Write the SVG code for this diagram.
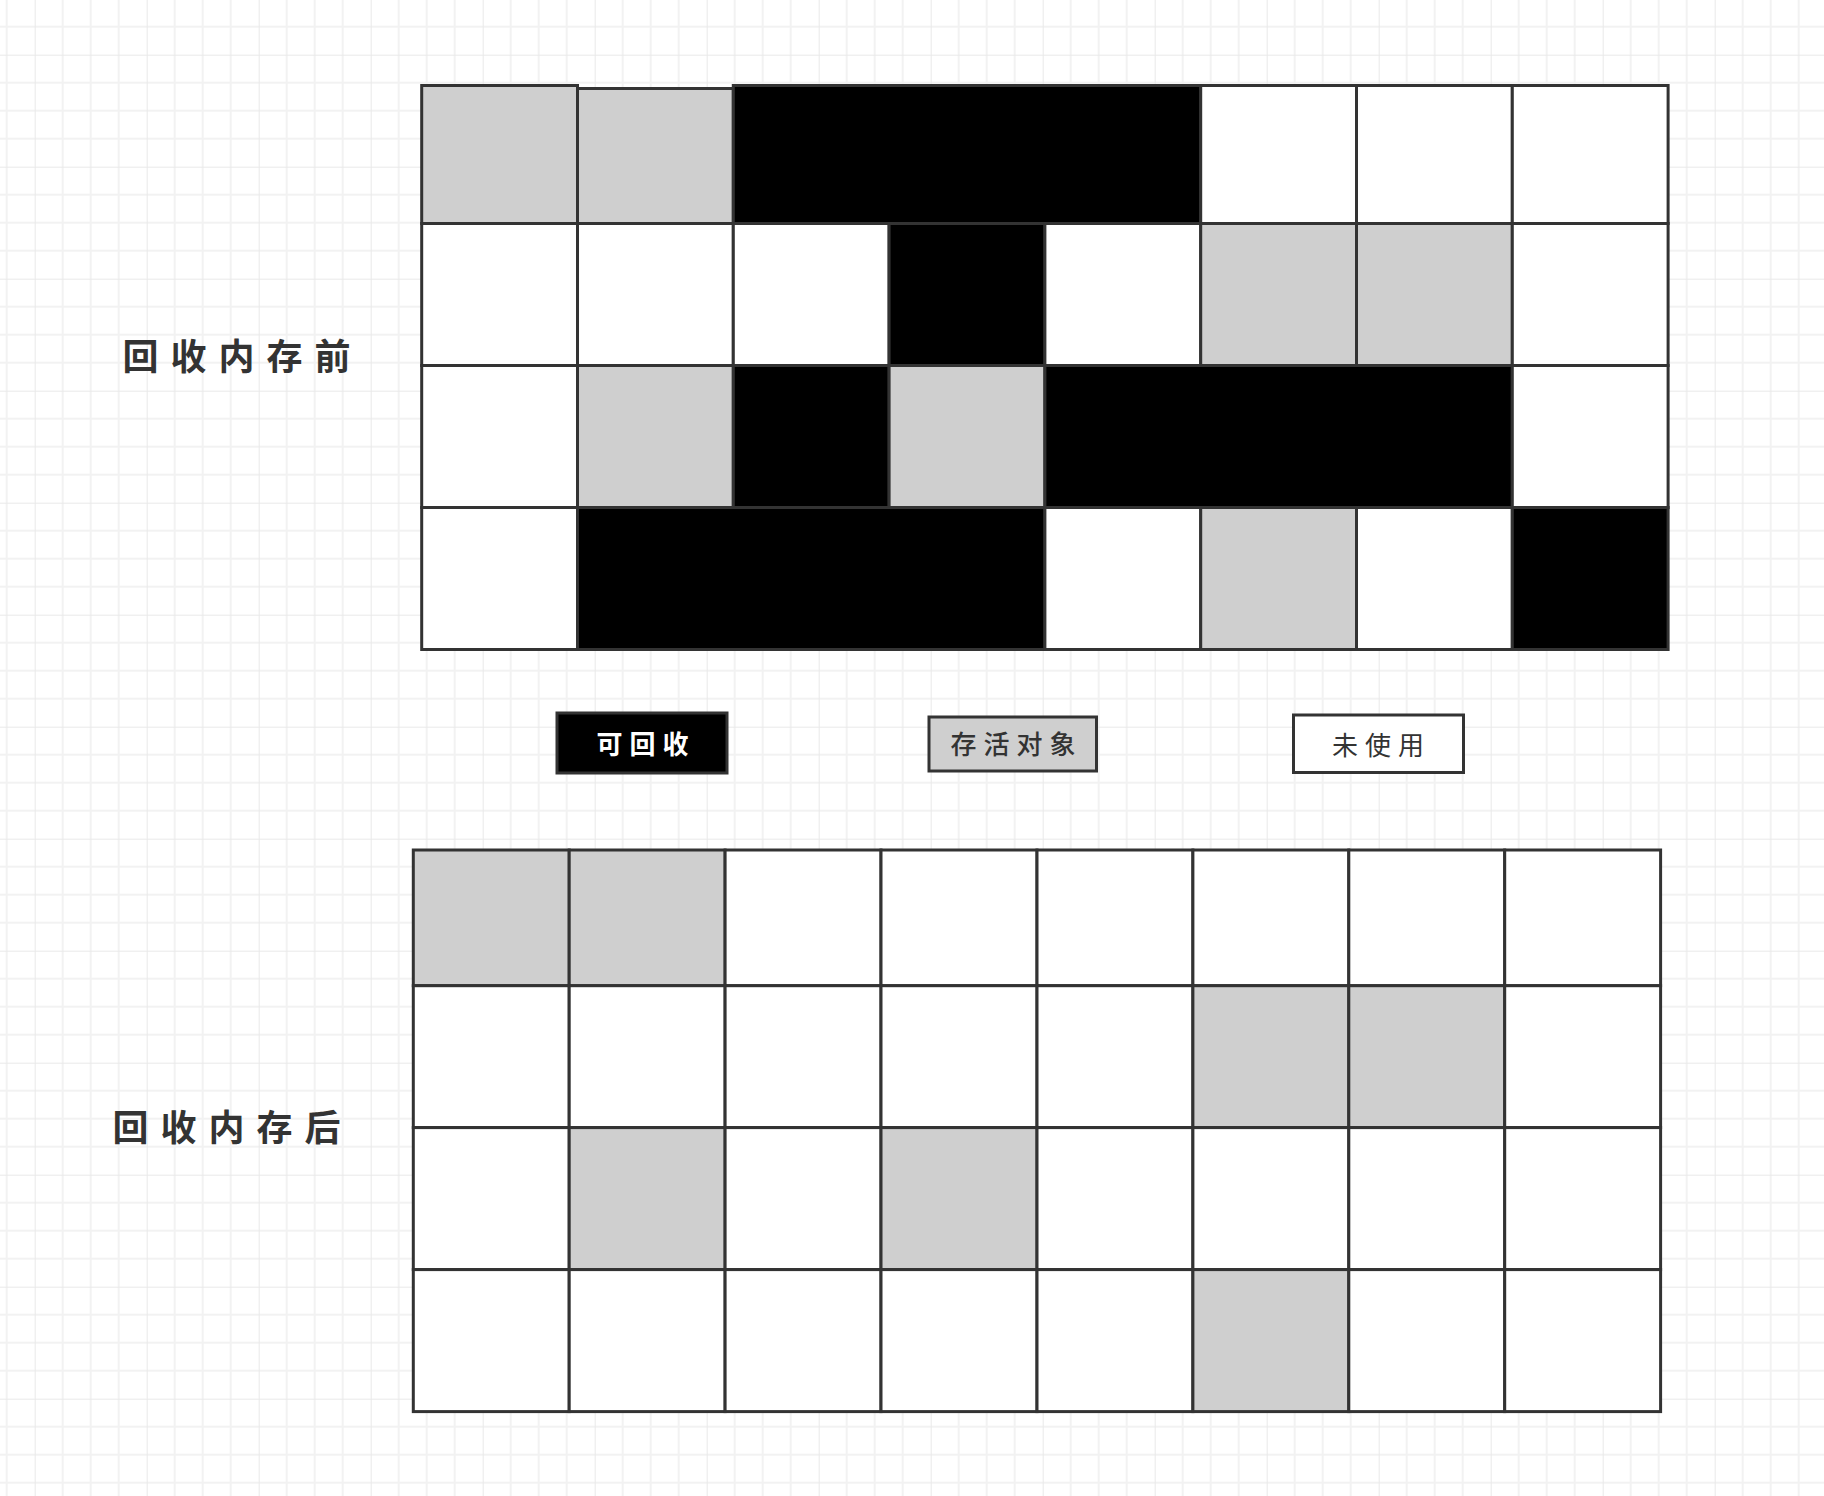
<svg xmlns="http://www.w3.org/2000/svg" width="1824" height="1496" viewBox="0 0 1824 1496">
<defs>
<pattern id="bg" patternUnits="userSpaceOnUse" x="34.7" y="54.7" width="112" height="112">
<path d="M28 0V112M56 0V112M84 0V112M0 28H112M0 56H112M0 84H112" stroke="#f2f2f2" stroke-width="2" fill="none"/>
<path d="M0 0V112M0 0H112" stroke="#e9e9e9" stroke-width="2" fill="none"/>
</pattern>
<style>
.c{stroke:#333;stroke-width:3}
.w{fill:#fff}
.g{fill:#cfcfcf}
.b{fill:#000}
.lbl{font-family:"Noto Sans CJK SC","Noto Sans",sans-serif;font-size:36px;font-weight:bold;fill:#333;letter-spacing:12px;text-anchor:middle}
.leg{font-family:"Noto Sans CJK SC","Noto Sans",sans-serif;font-size:26px;letter-spacing:7px;text-anchor:middle}
</style>
</defs>
<rect width="1824" height="1496" fill="#fff"/>
<rect width="1824" height="1496" fill="url(#bg)"/>

<g id="before-memory">
<rect class="c g" x="421.7" y="85.5" width="155.8" height="138"/>
<rect class="c g" x="577.5" y="88.5" width="155.8" height="135"/>
<rect class="c b" x="733.3" y="85.5" width="467.4" height="138"/>
<rect class="c w" x="1200.7" y="85.5" width="155.8" height="138"/>
<rect class="c w" x="1356.5" y="85.5" width="155.8" height="138"/>
<rect class="c w" x="1512.3" y="85.5" width="155.8" height="138"/>

<rect class="c w" x="421.7" y="223.5" width="155.8" height="142"/>
<rect class="c w" x="577.5" y="223.5" width="155.8" height="142"/>
<rect class="c w" x="733.3" y="223.5" width="155.8" height="142"/>
<rect class="c b" x="889.1" y="223.5" width="155.8" height="142"/>
<rect class="c w" x="1044.9" y="223.5" width="155.8" height="142"/>
<rect class="c g" x="1200.7" y="223.5" width="155.8" height="142"/>
<rect class="c g" x="1356.5" y="223.5" width="155.8" height="142"/>
<rect class="c w" x="1512.3" y="223.5" width="155.8" height="142"/>

<rect class="c w" x="421.7" y="365.5" width="155.8" height="142"/>
<rect class="c g" x="577.5" y="365.5" width="155.8" height="142"/>
<rect class="c b" x="733.3" y="365.5" width="155.8" height="142"/>
<rect class="c g" x="889.1" y="365.5" width="155.8" height="142"/>
<rect class="c b" x="1044.9" y="365.5" width="467.4" height="142"/>
<rect class="c w" x="1512.3" y="365.5" width="155.8" height="142"/>

<rect class="c w" x="421.7" y="507.5" width="155.8" height="142"/>
<rect class="c b" x="577.5" y="507.5" width="467.4" height="142"/>
<rect class="c w" x="1044.9" y="507.5" width="155.8" height="142"/>
<rect class="c g" x="1200.7" y="507.5" width="155.8" height="142"/>
<rect class="c w" x="1356.5" y="507.5" width="155.8" height="142"/>
<rect class="c b" x="1512.3" y="507.5" width="155.8" height="142"/>
</g>

<g id="after-memory">
<rect class="c g" x="413.3" y="850" width="155.9" height="135.7"/>
<rect class="c g" x="569.2" y="850" width="155.9" height="135.7"/>
<rect class="c w" x="725.1" y="850" width="155.9" height="135.7"/>
<rect class="c w" x="881" y="850" width="156" height="135.7"/>
<rect class="c w" x="1037" y="850" width="155.9" height="135.7"/>
<rect class="c w" x="1192.9" y="850" width="155.9" height="135.7"/>
<rect class="c w" x="1348.8" y="850" width="155.9" height="135.7"/>
<rect class="c w" x="1504.7" y="850" width="155.9" height="135.7"/>

<rect class="c w" x="413.3" y="985.7" width="155.9" height="141.9"/>
<rect class="c w" x="569.2" y="985.7" width="155.9" height="141.9"/>
<rect class="c w" x="725.1" y="985.7" width="155.9" height="141.9"/>
<rect class="c w" x="881" y="985.7" width="156" height="141.9"/>
<rect class="c w" x="1037" y="985.7" width="155.9" height="141.9"/>
<rect class="c g" x="1192.9" y="985.7" width="155.9" height="141.9"/>
<rect class="c g" x="1348.8" y="985.7" width="155.9" height="141.9"/>
<rect class="c w" x="1504.7" y="985.7" width="155.9" height="141.9"/>

<rect class="c w" x="413.3" y="1127.6" width="155.9" height="142"/>
<rect class="c g" x="569.2" y="1127.6" width="155.9" height="142"/>
<rect class="c w" x="725.1" y="1127.6" width="155.9" height="142"/>
<rect class="c g" x="881" y="1127.6" width="156" height="142"/>
<rect class="c w" x="1037" y="1127.6" width="155.9" height="142"/>
<rect class="c w" x="1192.9" y="1127.6" width="155.9" height="142"/>
<rect class="c w" x="1348.8" y="1127.6" width="155.9" height="142"/>
<rect class="c w" x="1504.7" y="1127.6" width="155.9" height="142"/>

<rect class="c w" x="413.3" y="1269.6" width="155.9" height="142"/>
<rect class="c w" x="569.2" y="1269.6" width="155.9" height="142"/>
<rect class="c w" x="725.1" y="1269.6" width="155.9" height="142"/>
<rect class="c w" x="881" y="1269.6" width="156" height="142"/>
<rect class="c w" x="1037" y="1269.6" width="155.9" height="142"/>
<rect class="c g" x="1192.9" y="1269.6" width="155.9" height="142"/>
<rect class="c w" x="1348.8" y="1269.6" width="155.9" height="142"/>
<rect class="c w" x="1504.7" y="1269.6" width="155.9" height="142"/>
</g>

<g id="label-before"><text class="lbl" x="242.5" y="370">回收内存前</text></g>
<g id="label-after"><text class="lbl" x="232.5" y="1141">回收内存后</text></g>

<g id="legend-reclaimable">
<rect class="c b" x="557" y="713" width="170" height="60"/>
<text class="leg" x="646" y="753.5" fill="#fff" font-weight="bold">可回收</text>
</g>
<g id="legend-live">
<rect class="c g" x="929" y="717" width="167.5" height="54"/>
<text class="leg" x="1016.5" y="753.5" fill="#333" font-weight="500">存活对象</text>
</g>
<g id="legend-unused">
<rect class="c w" x="1293.5" y="715" width="170" height="57.5"/>
<text class="leg" x="1381.5" y="754.5" fill="#333">未使用</text>
</g>
<g id="connectors"/>
</svg>
